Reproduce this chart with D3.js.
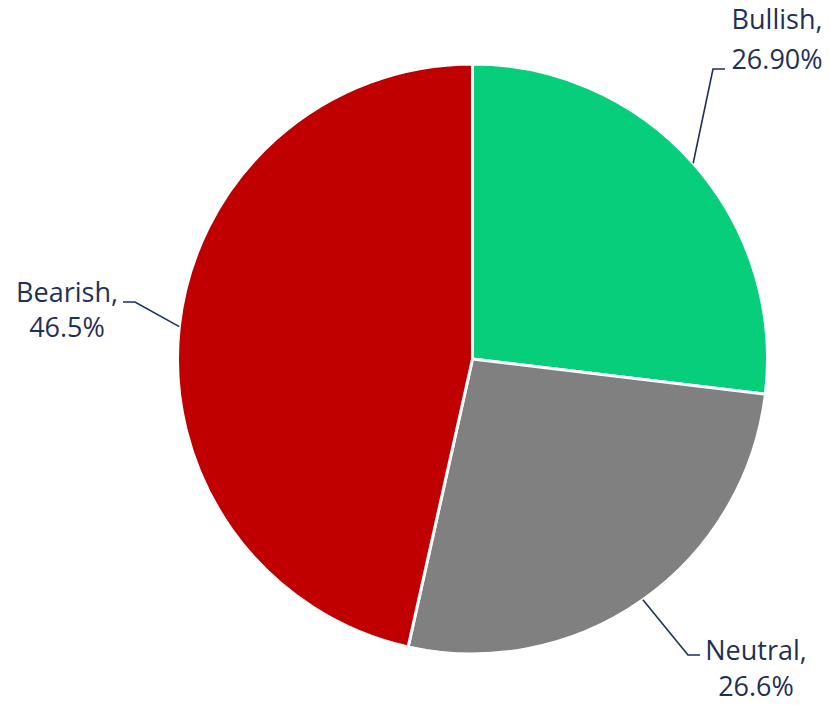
<!DOCTYPE html>
<html>
<head>
<meta charset="utf-8">
<script src="https://cdn.jsdelivr.net/npm/d3@7"></script>
<style>
  html, body { margin: 0; padding: 0; background: #fff; }
  svg { display: block; }
</style>
</head>
<body>
<svg id="chart" width="830" height="705"></svg>
<script>
// Sentiment split
const categories = ["Bullish", "Neutral", "Bearish"];
const values = [26.9, 26.6, 46.5];
const decimals = [2, 1, 1];
const colors = ["#07CE7B", "#808080", "#C00000"];

const W = 830, H = 705;
const cx = 472.5, cy = 359, R = 295;
const textColor = "#1F3057";

const svg = d3.select("#chart");
const g = svg.append("g").attr("transform", `translate(${cx},${cy})`);

const pie = d3.pie().sort(null).value(d => d.value);
const arc = d3.arc().innerRadius(0).outerRadius(R);

const data = categories.map((c, i) => ({ name: c, value: values[i], dec: decimals[i], color: colors[i] }));
const arcs = pie(data);

g.selectAll("path.slice")
  .data(arcs)
  .join("path")
  .attr("class", "slice")
  .attr("d", arc)
  .attr("fill", d => d.data.color)
  .attr("stroke", "#fff")
  .attr("stroke-width", 3)
  .attr("stroke-linejoin", "round");

// Leader-line layout: elbow and end point (relative to centre), label anchor and baselines
const labelLayout = {
  Bullish: { elbow: [713 - cx, 69 - cy], end: [725 - cx, 69 - cy], tx: 777 - cx, ty: [29 - cy, 69 - cy] },
  Neutral: { elbow: [688 - cx, 655 - cy], end: [700 - cx, 655 - cy], tx: 756 - cx, ty: [660 - cy, 696 - cy] },
  Bearish: { elbow: [135 - cx, 302 - cy], end: [123 - cx, 302 - cy], tx: 67 - cx, ty: [302 - cy, 337 - cy] }
};

const labels = g.selectAll("g.lbl")
  .data(arcs)
  .join("g")
  .attr("class", "lbl");

labels.append("polyline")
  .attr("points", d => {
    const a = (d.startAngle + d.endAngle) / 2;
    const p0 = [R * Math.sin(a), -R * Math.cos(a)];
    const L = labelLayout[d.data.name];
    return [p0, L.elbow, L.end].map(p => p.join(",")).join(" ");
  })
  .attr("fill", "none")
  .attr("stroke", textColor)
  .attr("stroke-width", 1.6);

labels.each(function (d) {
  const L = labelLayout[d.data.name];
  const t = d3.select(this).append("text")
    .attr("text-anchor", "middle")
    .attr("font-family", "'Open Sans', 'Noto Sans', sans-serif")
    .attr("font-size", 27)
    .attr("fill", textColor);
  t.append("tspan").attr("x", L.tx).attr("y", L.ty[0]).text(d.data.name + ",");
  t.append("tspan").attr("x", L.tx).attr("y", L.ty[1]).text(d.data.value.toFixed(d.data.dec) + "%");
});
</script>
</body>
</html>
